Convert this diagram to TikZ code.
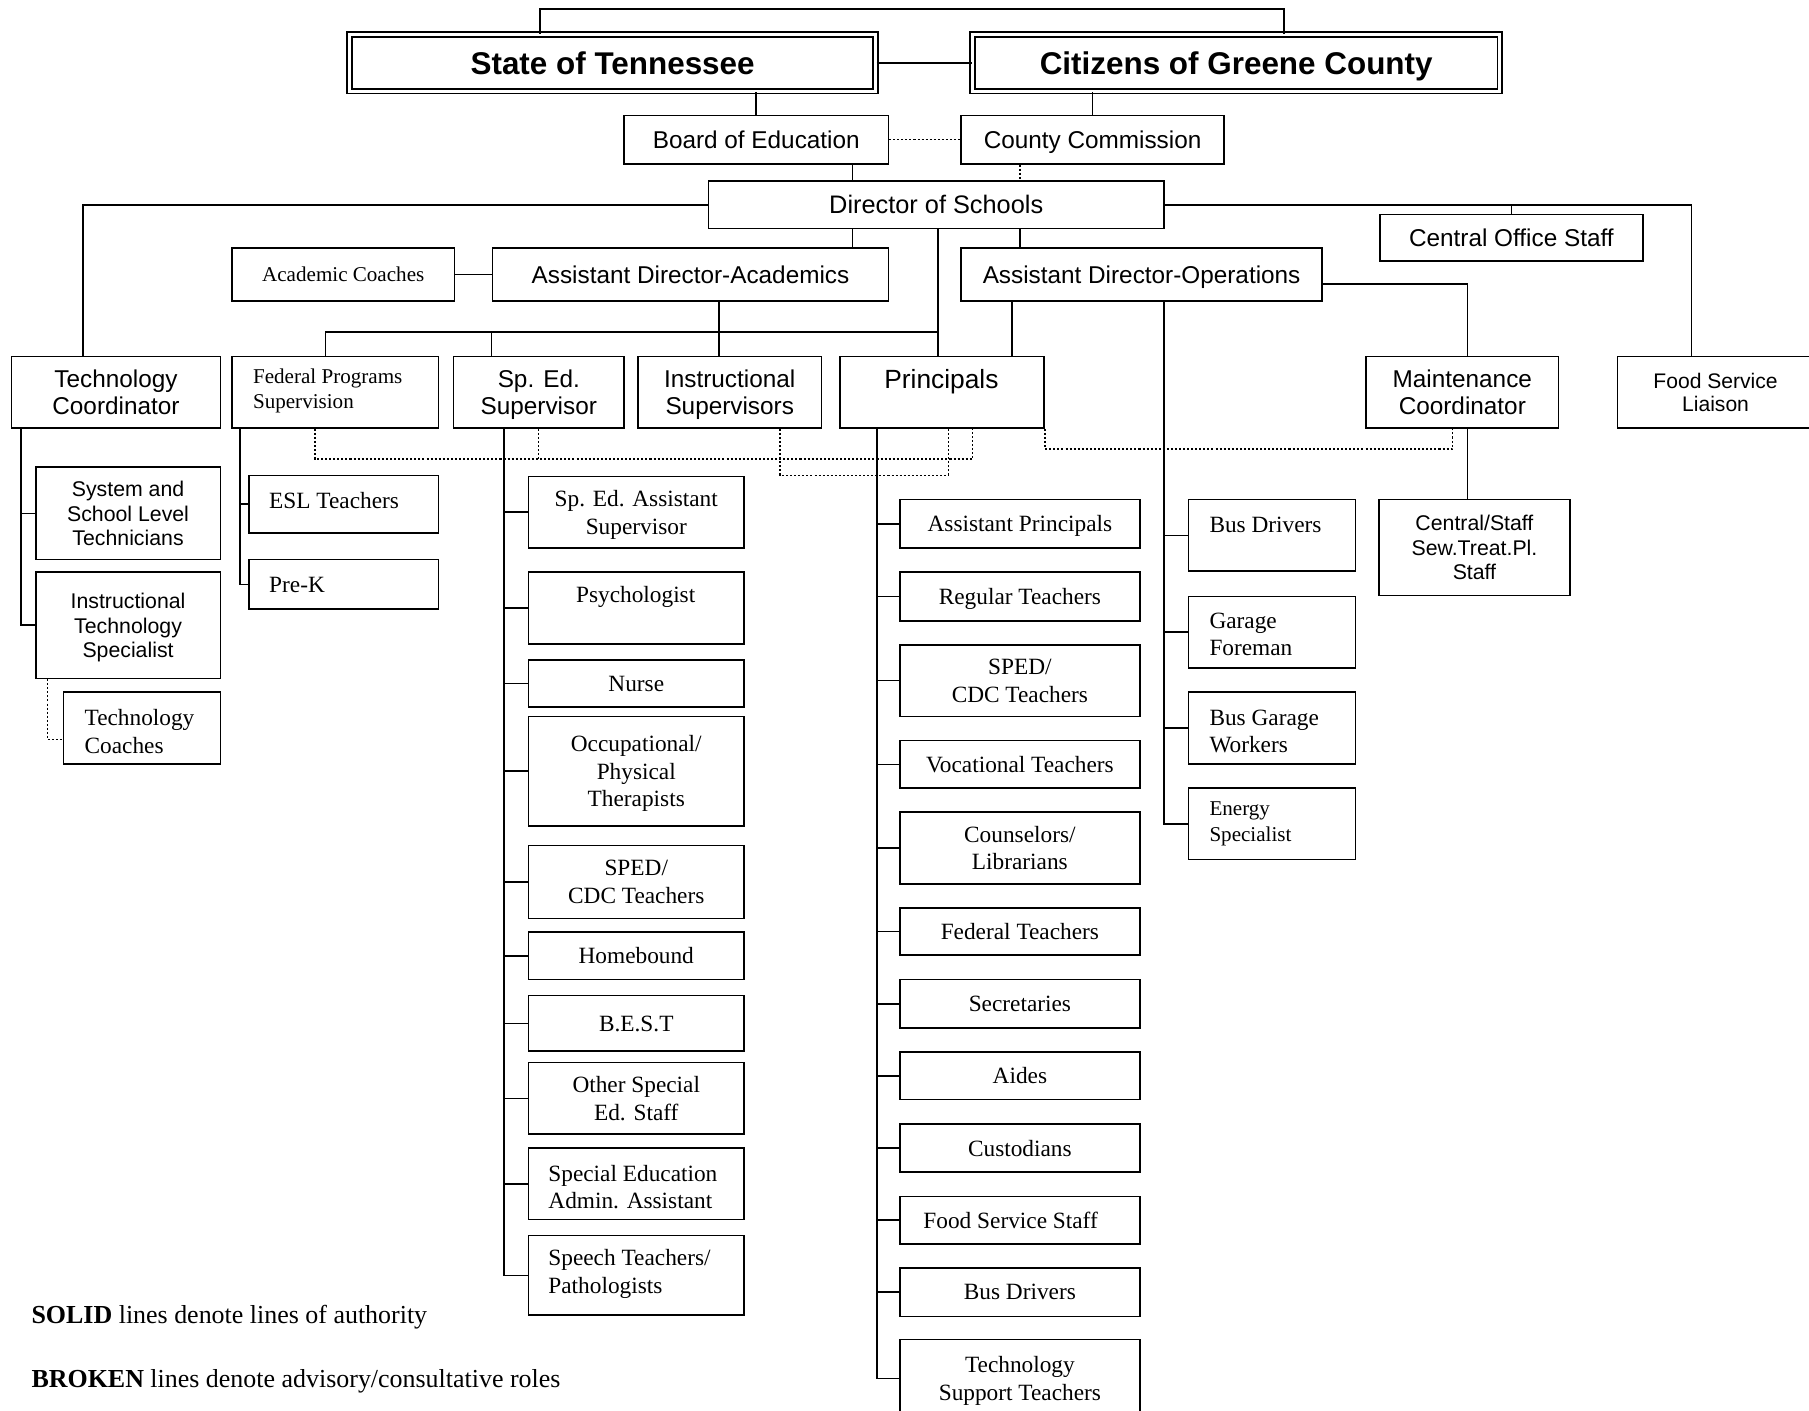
\documentclass[tikz,border=0pt]{standalone}
\usepackage{fontspec}
\setmainfont{Liberation Serif}
\setsansfont{Liberation Sans}
\usetikzlibrary{positioning}

\begin{document}
\begin{tikzpicture}[x=0.02cm, y=-0.02cm,
    cell/.style n args={4}{at={({(#1+#3)/2},{(#2+#4)/2})},
      minimum width={(#3-#1)*0.02cm}, minimum height={(#4-#2)*0.02cm}},
    box/.style={draw, line width=0.8pt, inner sep=0pt, align=center, text depth=0pt},
    headbox/.style={box, double, double distance=1.5pt, line width=0.85pt,
      font=\sffamily\bfseries\fontsize{15.5}{18}\selectfont},
    sftext/.style={font=\sffamily\fontsize{12}{13.6}\selectfont},
    sfsmall/.style={font=\sffamily\fontsize{10.5}{12.2}\selectfont},
    rmtext/.style={font=\fontsize{11.5}{13.6}\selectfont},
    rmsmall/.style={font=\fontsize{10.4}{12.6}\selectfont},
    lefttext/.style={anchor=west, align=left, inner sep=0pt},
    link/.style={line width=0.8pt},
    advise/.style={line width=0.7pt, dash pattern=on 1pt off 1pt}]
    \path[use as bounding box] (0,0) rectangle (1568,1223);
    \clip (0,0) rectangle (1568,1223);

    % Top level
    \node[headbox, cell={303}{30}{759}{79}] (state) {State of Tennessee};
    \node[headbox, cell={843}{30}{1300}{79}] (citz) {Citizens of Greene County};
    \node[box, sftext, cell={541}{100}{770}{142}] (board) {Board of Education};
    \node[box, sftext, cell={833}{100}{1061}{142}] (county) {County Commission};
    \node[box, font=\sffamily\fontsize{12.5}{15}\selectfont, cell={614}{157}{1009}{198}] (dir) {Director of Schools};
    \node[box, sftext, cell={1196}{186}{1424}{226}] (cos) {Central Office Staff};
    \node[box, rmsmall, cell={201}{215}{394}{261}] (acad) {Academic Coaches};
    \node[box, sftext, cell={427}{215}{770}{261}] (ada) {Assistant Director-Academics};
    \node[box, sftext, cell={833}{215}{1146}{261}] (ado) {Assistant Director-Operations};

    % Second row
    \node[box, sftext, cell={10}{309}{191}{371}] (techc) {Technology\\Coordinator};
    \node[box, cell={201}{309}{380}{371}] (fed) {};
    \node[rmsmall, lefttext] (fed-t) at (219,339) {Federal Programs\\Supervision};
    \node[box, sftext, cell={393}{309}{541}{371}] (sped) {Sp. Ed.\\Supervisor};
    \node[box, sftext, cell={553}{309}{712}{371}] (ins) {Instructional\\Supervisors};
    \node[box, cell={728}{309}{905}{371}] (prin) {};
    \node[font=\sffamily\fontsize{13}{15}\selectfont, inner sep=0pt] (prin-t) at (816,331) {Principals};
    \node[box, sftext, cell={1184}{309}{1351}{371}] (maint) {Maintenance\\Coordinator};
    \node[box, font=\sffamily\fontsize{10.4}{11.4}\selectfont, cell={1402}{309}{1572}{371}] (fsl) {Food Service\\Liaison};

    % Technology
    \node[box, sfsmall, cell={31}{405}{191}{485}] (sys) {System and\\School Level\\Technicians};
    \node[box, sfsmall, cell={31}{496}{191}{588}] (its) {Instructional\\Technology\\Specialist};
    \node[box, cell={55}{600}{191}{662}] (coach) {};
    \node[rmtext, lefttext] (coach-t) at (73,634) {Technology\\Coaches};

    % Federal programs
    \node[box, cell={216}{412}{380}{462}] (esl) {};
    \node[rmtext, lefttext] (esl-t) at (233,434) {ESL Teachers};
    \node[box, cell={216}{485}{380}{528}] (prek) {};
    \node[rmtext, lefttext] (prek-t) at (233,507) {Pre-K};

    % Special education
    \node[box, rmtext, cell={458}{413}{645}{475}] (spa) {Sp. Ed. Assistant\\Supervisor};
    \node[box, cell={458}{496}{645}{558}] (psy) {};
    \node[rmtext, inner sep=0pt] (psy-t) at (551,517) {Psychologist};
    \node[box, rmtext, cell={458}{572}{645}{613}] (nurse) {Nurse};
    \node[box, rmtext, cell={458}{621}{645}{716}] (ot) {Occupational/\\Physical\\Therapists};
    \node[box, rmtext, cell={458}{733}{645}{796}] (spcdc) {SPED/\\CDC Teachers};
    \node[box, rmtext, cell={458}{808}{645}{849}] (home) {Homebound};
    \node[box, rmtext, cell={458}{863}{645}{911}] (best) {B.E.S.T};
    \node[box, rmtext, cell={458}{921}{645}{983}] (other) {Other Special\\Ed. Staff};
    \node[box, cell={458}{995}{645}{1057}] (seadm) {};
    \node[rmtext, lefttext] (seadm-t) at (475,1029) {Special Education\\Admin. Assistant};
    \node[box, cell={458}{1071}{645}{1140}] (speech) {};
    \node[rmtext, lefttext] (speech-t) at (475,1104) {Speech Teachers/\\Pathologists};

    % Principals
    \node[box, rmtext, cell={780}{433}{988}{475}] (ap) {Assistant Principals};
    \node[box, rmtext, cell={780}{496}{988}{538}] (reg) {Regular Teachers};
    \node[box, rmtext, cell={780}{559}{988}{621}] (prcdc) {SPED/\\CDC Teachers};
    \node[box, rmtext, cell={780}{642}{988}{683}] (voc) {Vocational Teachers};
    \node[box, rmtext, cell={780}{704}{988}{766}] (couns) {Counselors/\\Librarians};
    \node[box, rmtext, cell={780}{787}{988}{828}] (fedt) {Federal Teachers};
    \node[box, rmtext, cell={780}{849}{988}{891}] (sec) {Secretaries};
    \node[box, rmtext, cell={780}{912}{988}{953}] (aides) {Aides};
    \node[box, rmtext, cell={780}{974}{988}{1016}] (cust) {Custodians};
    \node[box, cell={780}{1037}{988}{1078}] (food) {};
    \node[rmtext, inner sep=0pt] (food-t) at (876,1058) {Food Service Staff};
    \node[box, rmtext, cell={780}{1099}{988}{1141}] (bus) {Bus Drivers};
    \node[box, rmtext, cell={780}{1161}{988}{1229}] (techs) {Technology\\Support Teachers};

    % Operations
    \node[box, cell={1030}{433}{1175}{495}] (obus) {};
    \node[rmtext, lefttext] (obus-t) at (1048,455) {Bus Drivers};
    \node[box, cell={1030}{517}{1175}{579}] (garage) {};
    \node[rmtext, lefttext] (garage-t) at (1048,550) {Garage\\Foreman};
    \node[box, cell={1030}{600}{1175}{662}] (bgw) {};
    \node[rmtext, lefttext] (bgw-t) at (1048,634) {Bus Garage\\Workers};
    \node[box, cell={1030}{683}{1175}{745}] (energy) {};
    \node[rmsmall, lefttext] (energy-t) at (1048,714) {Energy\\Specialist};
    \node[box, sfsmall, cell={1195}{433}{1361}{516}] (sew) {Central/Staff\\Sew.Treat.Pl.\\Staff};

    % Legend
    \node[font=\fontsize{12.8}{15}\selectfont, lefttext] (solid) at (27,1142) {\textbf{SOLID} lines denote lines of authority};
    \node[font=\fontsize{12.8}{15}\selectfont, lefttext] (broken) at (27,1197) {\textbf{BROKEN} lines denote advisory/consultative roles};

    % Lines of authority
    \coordinate (topL) at (468,8);
    \coordinate (topR) at (1113,8);
    \draw[link] (state.north -| topL) -- (topL) -- (topR) -- (citz.north -| topR);
    \draw[link] (state) -- (citz);
    \draw[link] (board.north) -- (board.north |- state.south);
    \draw[link] (county.north) -- (county.north |- citz.south);
    \coordinate (bd) at (739,157);
    \draw[link] (bd |- board.south) -- (bd);
    \coordinate (tcj) at (72,309);
    \draw[link] (dir.west) -| (tcj);
    \coordinate (fsj) at (1466,309);
    \draw[link] (dir.east) -| (fsj);
    \draw[link] (cos.north) -- (cos.north |- dir.east);
    \coordinate (adaj) at (739,215);
    \draw[link] (adaj |- dir.south) -- (adaj);
    \coordinate (prj) at (813,309);
    \draw[link] (prj |- dir.south) -- (prj);
    \coordinate (adoj) at (884,215);
    \draw[link] (adoj |- dir.south) -- (adoj);
    \draw[link] (acad) -- (ada);

    \coordinate (busy) at (623,288);
    \coordinate (fedj) at (282,309);
    \coordinate (spedj) at (426,309);
    \draw[link] (fedj) |- (prj |- busy);
    \draw[link] (spedj) -- (spedj |- busy);
    \draw[link] (ada.south -| busy) -- (ins.north -| busy);

    \coordinate (adopr) at (877,309);
    \draw[link] (adopr) -- (adopr |- ado.south);
    \coordinate (mtj) at (1272,246);
    \draw[link] (ado.east |- mtj) -| (maint.north -| mtj);
    \draw[link] (maint.south -| mtj) -- (sew.north -| mtj);

    \coordinate (tcx) at (18,371);
    \draw[link] (tcx) |- (its.west);
    \draw[link] (tcx |- sys.west) -- (sys.west);
    \coordinate (fpx) at (208,371);
    \draw[link] (fpx) |- (prek.west);
    \draw[link] (fpx |- esl.west) -- (esl.west);
    \coordinate (spx) at (437,371);
    \draw[link] (spx) |- (speech.west);
    \foreach \n in {spa,psy,nurse,ot,spcdc,home,best,other,seadm}
      \draw[link] (spx |- \n.west) -- (\n.west);
    \coordinate (prx) at (760,371);
    \draw[link] (prx) |- (techs.west);
    \foreach \n in {ap,reg,prcdc,voc,couns,fedt,sec,aides,cust,food,bus}
      \draw[link] (prx |- \n.west) -- (\n.west);
    \coordinate (opx) at (1009,261);
    \draw[link] (opx) |- (energy.west);
    \foreach \n in {obus,garage,bgw}
      \draw[link] (opx |- \n.west) -- (\n.west);

    % Advisory lines
    \draw[advise] (board) -- (county);
    \coordinate (cd) at (884,157);
    \draw[advise] (cd |- county.south) -- (cd);
    \coordinate (da) at (273,398);
    \coordinate (db) at (843,398);
    \draw[advise] (fed.south -| da) -- (da) -- (db) -- (prin.south -| db);
    \draw[advise] (sped.south) -- (sped.south |- da);
    \coordinate (dc) at (676,412);
    \coordinate (dd) at (822,412);
    \draw[advise] (ins.south -| dc) -- (dc) -- (dd) -- (prin.south -| dd);
    \coordinate (de) at (1259,389);
    \draw[advise] (prin.south east) |- (de) -- (maint.south -| de);
    \coordinate (df) at (41,641);
    \draw[advise] (its.south -| df) -- (df) -- (coach.west |- df);
\end{tikzpicture}
\end{document}
